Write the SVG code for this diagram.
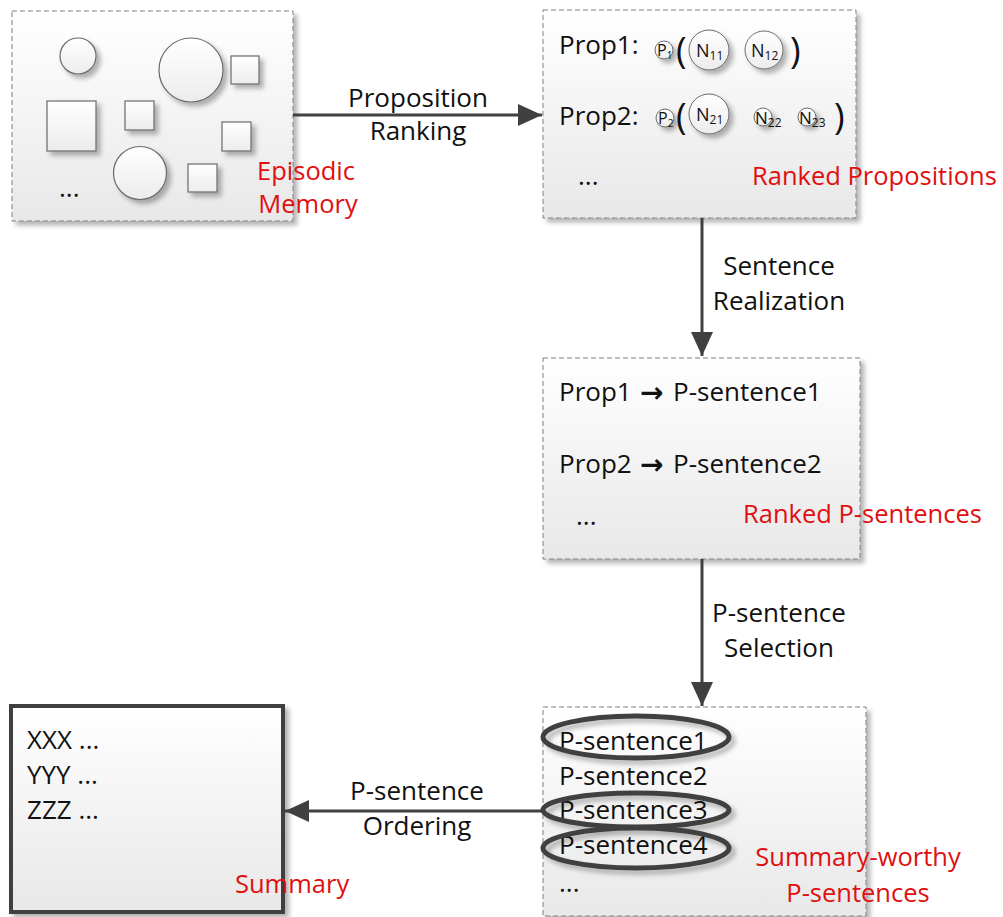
<svg xmlns="http://www.w3.org/2000/svg" width="1003" height="917" viewBox="0 0 1003 917">
  <style>
    .txt { font-family: "Open Sans", "Liberation Sans", sans-serif; font-size: 26px; fill: #111; }
    .red { font-family: "Open Sans", "Liberation Sans", sans-serif; font-size: 25.5px; fill: #e01010; }
    .mid { text-anchor: middle; }
    .paren { font-family: "Open Sans", "Liberation Sans", sans-serif; font-size: 36px; fill: #111; }
    .arr { font-family: "DejaVu Sans", sans-serif; font-size: 28px; font-weight: bold; fill: #111; }
    .dbox { fill: url(#boxFill); stroke: #7f7f7f; stroke-width: 1; stroke-dasharray: 5 3; }
    .shape { fill: url(#shapeFill); stroke: #6a6a6a; stroke-width: 1.2; }
    .node { fill: url(#shapeFill); stroke: #6a6a6a; stroke-width: 1; }
    .nlab { font-family: "Open Sans", "Liberation Sans", sans-serif; fill: #111; }
    .conn { stroke: #404040; stroke-width: 3; fill: none; marker-end: url(#arrow); }
    .ring { fill: none; stroke: #404040; stroke-width: 5; }
  </style>
  <defs>
    <linearGradient id="boxFill" x1="0" y1="0" x2="0" y2="1">
      <stop offset="0" stop-color="#ffffff"/>
      <stop offset="1" stop-color="#e8e8e8"/>
    </linearGradient>
    <linearGradient id="shapeFill" x1="0" y1="0" x2="0" y2="1">
      <stop offset="0" stop-color="#ffffff"/>
      <stop offset="1" stop-color="#ececec"/>
    </linearGradient>
    <filter id="shadow" x="-10%" y="-10%" width="130%" height="130%">
      <feGaussianBlur in="SourceAlpha" stdDeviation="2.5"/>
      <feOffset dx="4" dy="4" result="off"/>
      <feComponentTransfer><feFuncA type="linear" slope="0.3"/></feComponentTransfer>
      <feMerge><feMergeNode/><feMergeNode in="SourceGraphic"/></feMerge>
    </filter>
    <marker id="arrow" markerUnits="userSpaceOnUse" markerWidth="26" markerHeight="22" refX="24" refY="11" orient="auto">
      <path d="M0,0 L24,11 L0,22 Z" fill="#404040"/>
    </marker>
  </defs>

  <!-- Episodic memory -->
  <g id="episodic-memory">
    <rect class="dbox" x="12" y="11" width="281" height="210" filter="url(#shadow)"/>
    <g filter="url(#shadow)">
      <circle class="shape" cx="78" cy="56" r="18"/>
      <circle class="shape" cx="191" cy="70" r="32"/>
      <rect class="shape" x="231" y="56" width="28" height="28"/>
      <rect class="shape" x="47" y="101" width="49" height="50"/>
      <rect class="shape" x="125" y="101" width="29" height="29"/>
      <rect class="shape" x="222" y="122" width="29" height="29"/>
      <circle class="shape" cx="140" cy="173" r="26.5"/>
      <rect class="shape" x="188" y="164" width="29" height="28"/>
    </g>
    <text class="txt" x="59" y="197">...</text>
    <text class="red mid" x="306" y="180">Episodic</text>
    <text class="red mid" x="308" y="213">Memory</text>
  </g>

  <!-- Ranked propositions -->
  <g id="ranked-propositions">
    <rect class="dbox" x="543" y="10" width="313" height="208" filter="url(#shadow)"/>
    <text class="txt" x="559" y="54">Prop1:</text>
    <text class="txt" x="559" y="125">Prop2:</text>
    <g filter="url(#shadow)">
      <circle class="node" cx="664" cy="50" r="9"/>
      <circle class="node" cx="709" cy="50" r="20"/>
      <circle class="node" cx="764" cy="50" r="19"/>
      <circle class="node" cx="665" cy="118" r="9"/>
      <circle class="node" cx="709" cy="114" r="20"/>
      <circle class="node" cx="763" cy="117" r="9"/>
      <circle class="node" cx="807" cy="117" r="9"/>
    </g>
    <text class="nlab" x="657" y="56" font-size="16">P<tspan font-size="10" dy="3">1</tspan></text>
    <text class="nlab" x="696" y="57" font-size="18">N<tspan font-size="12" dy="3">11</tspan></text>
    <text class="nlab" x="751" y="57" font-size="18">N<tspan font-size="12" dy="3">12</tspan></text>
    <text class="nlab" x="658" y="124" font-size="16">P<tspan font-size="10" dy="3">2</tspan></text>
    <text class="nlab" x="696" y="121" font-size="18">N<tspan font-size="12" dy="3">21</tspan></text>
    <text class="nlab" x="755" y="124" font-size="17">N<tspan font-size="12" dy="3">22</tspan></text>
    <text class="nlab" x="799" y="124" font-size="17">N<tspan font-size="12" dy="3">23</tspan></text>
    <text class="paren" x="676" y="63">(</text>
    <text class="paren" x="790" y="63">)</text>
    <text class="paren" x="676" y="129">(</text>
    <text class="paren" x="834" y="129">)</text>
    <text class="txt" x="578" y="185">...</text>
    <text class="red" x="752" y="185">Ranked Propositions</text>
  </g>

  <!-- Ranked P-sentences -->
  <g id="ranked-p-sentences">
    <rect class="dbox" x="543" y="358" width="317" height="201" filter="url(#shadow)"/>
    <text class="txt" x="559" y="401">Prop1</text>
    <text class="arr" x="640" y="402">→</text>
    <text class="txt" x="673" y="401">P-sentence1</text>
    <text class="txt" x="559" y="473">Prop2</text>
    <text class="arr" x="640" y="474">→</text>
    <text class="txt" x="673" y="473">P-sentence2</text>
    <text class="txt" x="576" y="525">...</text>
    <text class="red" x="743" y="523">Ranked P-sentences</text>
  </g>

  <!-- Summary-worthy P-sentences -->
  <g id="summary-worthy">
    <rect class="dbox" x="543" y="707" width="323" height="209" filter="url(#shadow)"/>
    <text class="txt" x="559" y="750">P-sentence1</text>
    <text class="txt" x="559" y="785">P-sentence2</text>
    <text class="txt" x="559" y="819">P-sentence3</text>
    <text class="txt" x="559" y="854">P-sentence4</text>
    <text class="txt" x="559" y="892">...</text>
    <g filter="url(#shadow)">
      <ellipse class="ring" cx="636" cy="737" rx="93" ry="21"/>
      <ellipse class="ring" cx="636" cy="810" rx="93" ry="17"/>
      <ellipse class="ring" cx="636" cy="848" rx="93" ry="20"/>
    </g>
    <text class="red mid" x="858" y="866">Summary-worthy</text>
    <text class="red mid" x="858" y="902">P-sentences</text>
  </g>

  <!-- Summary -->
  <g id="summary">
    <rect x="11" y="706" width="272" height="206" fill="url(#boxFill)" stroke="#404040" stroke-width="4" filter="url(#shadow)"/>
    <text class="txt" x="27" y="749">XXX ...</text>
    <text class="txt" x="27" y="784">YYY ...</text>
    <text class="txt" x="27" y="819">ZZZ ...</text>
    <text class="red" x="235" y="893">Summary</text>
  </g>

  <!-- Connectors -->
  <g id="connectors">
    <path class="conn" d="M293,115 H542"/>
    <path class="conn" d="M702,218 V356"/>
    <path class="conn" d="M702,559 V706"/>
    <path class="conn" d="M543,811 H285"/>
    <text class="txt mid" x="418" y="107">Proposition</text>
    <text class="txt mid" x="418" y="140">Ranking</text>
    <text class="txt mid" x="779" y="275">Sentence</text>
    <text class="txt mid" x="779" y="310">Realization</text>
    <text class="txt mid" x="779" y="622">P-sentence</text>
    <text class="txt mid" x="779" y="657">Selection</text>
    <text class="txt mid" x="417" y="800">P-sentence</text>
    <text class="txt mid" x="417" y="835">Ordering</text>
  </g>
</svg>
